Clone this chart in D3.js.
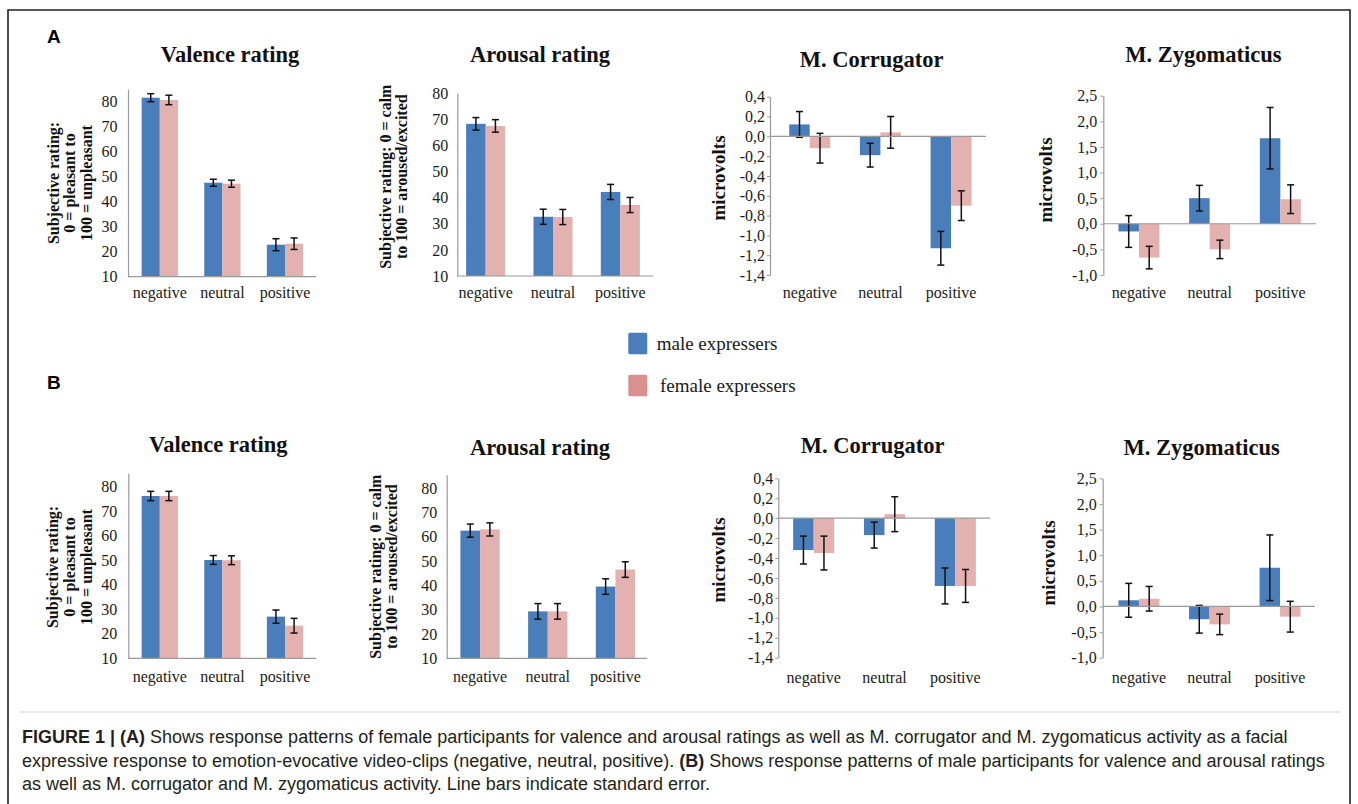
<!DOCTYPE html>
<html>
<head>
<meta charset="utf-8">
<script src="https://cdn.jsdelivr.net/npm/d3@7"></script>
<style>
  body { margin: 0; background: #fff; }
  svg { display: block; }
  .serif { font-family: "Liberation Serif", "Times New Roman", serif; }
  .sans { font-family: "Liberation Sans", Arial, Helvetica, sans-serif; }
</style>
</head>
<body>
<svg width="1358" height="804"></svg>
<script>
// categories + series
const categories = ["negative", "neutral", "positive"];
const seriesNames = ["male expressers", "female expressers"];

// A: female participants
const valenceA_male = [81.6, 47.6, 22.8];
const valenceA_maleErr = [1.6, 1.4, 2.4];
const valenceA_female = [80.7, 47.2, 23.2];
const valenceA_femaleErr = [1.9, 1.4, 2.3];

const arousalA_male = [68.3, 32.7, 42.2];
const arousalA_maleErr = [2.4, 2.9, 2.9];
const arousalA_female = [67.5, 32.6, 37.2];
const arousalA_femaleErr = [2.4, 2.9, 2.9];

const corrA_male = [0.12, -0.19, -1.13];
const corrA_maleErr = [0.13, 0.12, 0.17];
const corrA_female = [-0.12, 0.04, -0.70];
const corrA_femaleErr = [0.15, 0.16, 0.15];

const zygA_male = [-0.15, 0.50, 1.67];
const zygA_maleErr = [0.31, 0.25, 0.60];
const zygA_female = [-0.66, -0.50, 0.48];
const zygA_femaleErr = [0.22, 0.18, 0.28];

// B: male participants
const valenceB_male = [76.2, 50.1, 27.0];
const valenceB_maleErr = [1.9, 1.8, 2.7];
const valenceB_female = [76.2, 50.0, 23.3];
const valenceB_femaleErr = [1.9, 1.8, 3.0];

const arousalB_male = [62.5, 29.3, 39.5];
const arousalB_maleErr = [2.7, 3.2, 3.2];
const arousalB_female = [63.0, 29.3, 46.5];
const arousalB_femaleErr = [2.7, 3.2, 3.2];

const corrB_male = [-0.32, -0.17, -0.68];
const corrB_maleErr = [0.14, 0.13, 0.18];
const corrB_female = [-0.35, 0.04, -0.68];
const corrB_femaleErr = [0.17, 0.175, 0.165];

const zygB_male = [0.12, -0.25, 0.755];
const zygB_maleErr = [0.33, 0.27, 0.64];
const zygB_female = [0.15, -0.35, -0.20];
const zygB_femaleErr = [0.24, 0.20, 0.30];

// tick labels
const ratingTicks = [10, 20, 30, 40, 50, 60, 70, 80];
const corrTicks = [-1.4, -1.2, -1.0, -0.8, -0.6, -0.4, -0.2, 0.0, 0.2, 0.4];
const zygTicks = [-1.0, -0.5, 0.0, 0.5, 1.0, 1.5, 2.0, 2.5];

const ratingLabelValence = ["Subjective rating:", "0 = pleasant to", "100 = unpleasant"];
const ratingLabelArousal = ["Subjective rating: 0 = calm", "to 100 = aroused/excited"];

const colors = ["#4a7ebb", "#e4b1b1"];
const legendColors = ["#4a7ebb", "#d9908f"];
const axisColor = "#9a9a9a";
const serifFont = '"Liberation Serif", "Times New Roman", serif';

const fmt = d3.formatLocale({decimal: ",", thousands: ".", grouping: [3], currency: ["", ""], minus: "-"}).format(".1f");

const svg = d3.select("svg");

// frame
svg.append("path")
  .attr("d", "M8,830 L8,10 L1350,10 L1350,830")
  .attr("fill", "none").attr("stroke", "#222").attr("stroke-width", 1.6);

const panels = [
  // row A
  {title: "Valence rating", tx: 230, ty: 61.7, label: ratingLabelValence, lx: 53, ly: 183, lsize: 16, lstep: 16.8,
   axisX: 128, axisR: 316, band: [128.5, 316.3], dom: [10, 85], yr: [276.7, 89.2], ticks: ratingTicks, tickFmt: d3.format("d"), tickGap: 10.5, base: 10, tickLen: 0, xl: 298,
   male: valenceA_male, maleErr: valenceA_maleErr, female: valenceA_female, femaleErr: valenceA_femaleErr},
  {title: "Arousal rating", tx: 540, ty: 61.7, label: ratingLabelArousal, lx: 385, ly: 176.7, lsize: 16, lstep: 16.8,
   axisX: 457.3, axisR: 653.3, band: [452, 654], dom: [10, 80], yr: [276, 93.3], ticks: ratingTicks, tickFmt: d3.format("d"), tickGap: 9, base: 10, tickLen: 0, xl: 298,
   male: arousalA_male, maleErr: arousalA_maleErr, female: arousalA_female, femaleErr: arousalA_femaleErr},
  {title: "M. Corrugator", tx: 871.7, ty: 66.7, label: ["microvolts"], lx: 718, ly: 178, lsize: 19, lstep: 0,
   axisX: 770, axisR: 986, band: [774.4, 986.4], dom: [-1.4, 0.4], yr: [275, 96.7], ticks: corrTicks, tickFmt: fmt, tickGap: 5, base: 0, tickLen: 3, xl: 298,
   male: corrA_male, maleErr: corrA_maleErr, female: corrA_female, femaleErr: corrA_femaleErr},
  {title: "M. Zygomaticus", tx: 1203.3, ty: 61.7, label: ["microvolts"], lx: 1045, ly: 180, lsize: 19, lstep: 0,
   axisX: 1103.3, axisR: 1316, band: [1103.6, 1315.7], dom: [-1.0, 2.5], yr: [275, 95.7], ticks: zygTicks, tickFmt: fmt, tickGap: 6, base: 0, tickLen: 3, xl: 298,
   male: zygA_male, maleErr: zygA_maleErr, female: zygA_female, femaleErr: zygA_femaleErr},
  // row B
  {title: "Valence rating", tx: 218.3, ty: 452, label: ratingLabelValence, lx: 52, ly: 567, lsize: 16, lstep: 17.3,
   axisX: 128.3, axisR: 316, band: [128.5, 316.3], dom: [10, 85.5], yr: [658.3, 473.2], ticks: ratingTicks, tickFmt: d3.format("d"), tickGap: 11, base: 10, tickLen: 0, xl: 682,
   male: valenceB_male, maleErr: valenceB_maleErr, female: valenceB_female, femaleErr: valenceB_femaleErr},
  {title: "Arousal rating", tx: 540, ty: 455, label: ratingLabelArousal, lx: 375, ly: 566.7, lsize: 16, lstep: 16.8,
   axisX: 446.7, axisR: 647.3, band: [446.2, 649.3], dom: [10, 85.5], yr: [658.3, 474.7], ticks: ratingTicks, tickFmt: d3.format("d"), tickGap: 9.4, base: 10, tickLen: 0, xl: 682,
   male: arousalB_male, maleErr: arousalB_maleErr, female: arousalB_female, femaleErr: arousalB_femaleErr},
  {title: "M. Corrugator", tx: 872.7, ty: 453.3, label: ["microvolts"], lx: 718.3, ly: 560, lsize: 19, lstep: 0,
   axisX: 778.3, axisR: 990, band: [778.3, 990.7], dom: [-1.4, 0.4], yr: [657.7, 478.3], ticks: corrTicks, tickFmt: fmt, tickGap: 5, base: 0, tickLen: 3, xl: 683,
   male: corrB_male, maleErr: corrB_maleErr, female: corrB_female, femaleErr: corrB_femaleErr},
  {title: "M. Zygomaticus", tx: 1201.7, ty: 455, label: ["microvolts"], lx: 1048.3, ly: 563, lsize: 19, lstep: 0,
   axisX: 1102.7, axisR: 1315, band: [1103.7, 1315.3], dom: [-1.0, 2.5], yr: [657.7, 478.3], ticks: zygTicks, tickFmt: fmt, tickGap: 6, base: 0, tickLen: 3, xl: 683,
   male: zygB_male, maleErr: zygB_maleErr, female: zygB_female, femaleErr: zygB_femaleErr}
];

function drawPanel(p) {
  const g = svg.append("g").attr("class", "serif");

  const x0 = d3.scaleBand().domain(categories).range(p.band).paddingInner(0.42).paddingOuter(0.21);
  const x1 = d3.scaleBand().domain(seriesNames).range([0, x0.bandwidth()]);
  const y = d3.scaleLinear().domain(p.dom).range(p.yr);

  const rows = categories.map((c, i) => ({
    cat: c,
    vals: [
      {s: seriesNames[0], v: p.male[i], e: p.maleErr[i], c: colors[0]},
      {s: seriesNames[1], v: p.female[i], e: p.femaleErr[i], c: colors[1]}
    ]
  }));

  // y axis: line + labels
  const yAxis = d3.axisLeft(y).tickValues(p.ticks).tickFormat(p.tickFmt)
    .tickSizeInner(p.tickLen).tickSizeOuter(0).tickPadding(p.tickGap - p.tickLen);
  const ya = g.append("g").attr("transform", `translate(${p.axisX},0)`).call(yAxis);
  ya.select(".domain").attr("stroke", axisColor).attr("stroke-width", 1.2);
  ya.selectAll(".tick line").attr("stroke", axisColor);
  ya.selectAll(".tick text").attr("fill", "#1a1a1a")
    .style("font-family", serifFont).style("font-size", "16px");

  // bars
  const grp = g.selectAll("g.cat").data(rows).join("g").attr("class", "cat")
    .attr("transform", d => `translate(${x0(d.cat)},0)`);

  grp.selectAll("rect").data(d => d.vals).join("rect")
    .attr("x", d => x1(d.s))
    .attr("width", x1.bandwidth())
    .attr("y", d => Math.min(y(d.v), y(p.base)))
    .attr("height", d => Math.abs(y(d.v) - y(p.base)))
    .attr("fill", d => d.c);

  // baseline (x axis)
  g.append("line")
    .attr("x1", p.axisX).attr("x2", p.axisR)
    .attr("y1", y(p.base)).attr("y2", y(p.base))
    .attr("stroke", axisColor).attr("stroke-width", 1.2);

  // error bars
  const eb = grp.selectAll("g.err").data(d => d.vals).join("g").attr("class", "err")
    .attr("transform", d => `translate(${x1(d.s) + x1.bandwidth() / 2},0)`)
    .attr("stroke", "#111").attr("stroke-width", 1.5);
  eb.append("line").attr("y1", d => y(d.v - d.e)).attr("y2", d => y(d.v + d.e));
  eb.append("line").attr("x1", -3.5).attr("x2", 3.5).attr("y1", d => y(d.v - d.e)).attr("y2", d => y(d.v - d.e));
  eb.append("line").attr("x1", -3.5).attr("x2", 3.5).attr("y1", d => y(d.v + d.e)).attr("y2", d => y(d.v + d.e));

  // category labels
  g.selectAll("text.xl").data(categories).join("text").attr("class", "xl")
    .attr("x", d => x0(d) + x0.bandwidth() / 2)
    .attr("y", p.xl)
    .attr("text-anchor", "middle")
    .style("font-size", "16px").attr("fill", "#1a1a1a")
    .text(d => d);

  // title
  g.append("text").attr("x", p.tx).attr("y", p.ty)
    .attr("text-anchor", "middle").style("font-size", "22.5px").style("font-weight", "bold")
    .attr("fill", "#111").text(p.title);

  // y label
  const n = p.label.length;
  const yl = g.append("text")
    .attr("transform", `translate(${p.lx + (n - 1) * p.lstep / 2},${p.ly}) rotate(-90)`)
    .attr("text-anchor", "middle").style("font-size", p.lsize + "px").style("font-weight", "bold")
    .attr("fill", "#111");
  yl.selectAll("tspan").data(p.label).join("tspan")
    .attr("x", 0)
    .attr("dy", (d, i) => i === 0 ? (-(n - 1) * p.lstep / 2 + p.lsize * 0.35) : p.lstep)
    .text(d => d);
}

panels.forEach(drawPanel);

// panel letters
svg.append("text").attr("class", "sans").attr("x", 47).attr("y", 43)
  .style("font-size", "19px").style("font-weight", "bold").text("A");
svg.append("text").attr("class", "sans").attr("x", 47).attr("y", 389)
  .style("font-size", "19px").style("font-weight", "bold").text("B");

// legend
const leg = svg.append("g").attr("class", "serif");
const legY = d3.scalePoint().domain(seriesNames).range([343.5, 385.5]);
leg.selectAll("rect").data(seriesNames).join("rect")
  .attr("x", 628.3).attr("y", d => legY(d) - 10.8)
  .attr("width", 19).attr("height", 21.6).attr("rx", 1.5)
  .attr("fill", (d, i) => legendColors[i]);
leg.selectAll("text").data(seriesNames).join("text")
  .attr("x", (d, i) => i === 0 ? 656.7 : 660)
  .attr("y", d => legY(d) + 6.5)
  .style("font-size", "19px").attr("fill", "#1a1a1a")
  .text(d => d);

// caption
svg.append("line").attr("x1", 20).attr("x2", 1340).attr("y1", 712).attr("y2", 712)
  .attr("stroke", "#cfcfcf").attr("stroke-width", 1);

const captionLines = [
  [["FIGURE 1 | (A)", true], [" Shows response patterns of female participants for valence and arousal ratings as well as M. corrugator and M. zygomaticus activity as a facial", false]],
  [["expressive response to emotion-evocative video-clips (negative, neutral, positive). ", false], ["(B)", true], [" Shows response patterns of male participants for valence and arousal ratings", false]],
  [["as well as M. corrugator and M. zygomaticus activity. Line bars indicate standard error.", false]]
];
const cap = svg.append("g").attr("class", "sans");
captionLines.forEach((line, i) => {
  const t = cap.append("text").attr("x", 22).attr("y", 743 + i * 23.5)
    .style("font-size", "18px").attr("fill", "#231f20");
  line.forEach(([s, b]) => {
    t.append("tspan").style("font-weight", b ? "bold" : "normal").text(s);
  });
});
</script>
</body>
</html>
